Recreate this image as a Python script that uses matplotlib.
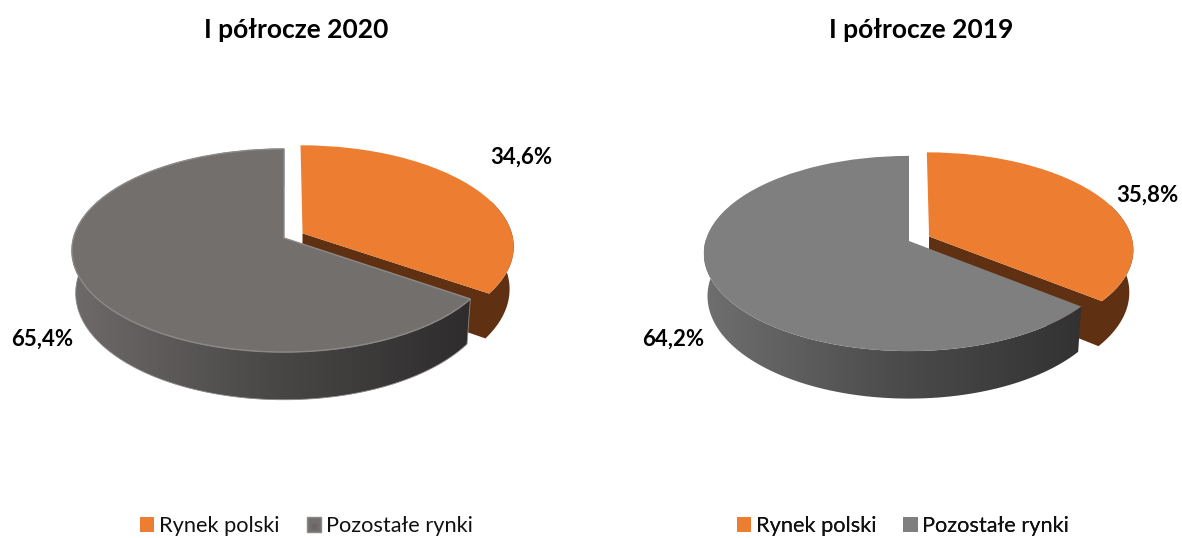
"""Two tilted 3D-look pies: share of the Polish market vs other markets."""
import matplotlib
matplotlib.use("Agg")
import matplotlib.pyplot as plt
import matplotlib.transforms as mtransforms
import numpy as np
from matplotlib.colors import LinearSegmentedColormap
from matplotlib.patches import Polygon

categories = ["Rynek polski", "Pozostałe rynki"]

title_left = "I półrocze 2020"
shares_left = [34.6, 65.4]

title_right = "I półrocze 2019"
shares_right = [35.8, 64.2]

plt.rcParams["font.family"] = ["Lato", "DejaVu Sans"]

ORANGE = "#ED7D31"
BROWN = "#5F3112"


class Tilt(mtransforms.Transform):
    """Perspective view of the pie plane, gives figure pixels."""
    input_dims = 2
    output_dims = 2

    def __init__(self, cx, cy, sx, sy, persp):
        super().__init__()
        self.cx, self.cy, self.sx, self.sy, self.persp = cx, cy, sx, sy, persp

    def transform_non_affine(self, values):
        x, y = values[:, 0], values[:, 1]
        w = 1 + self.persp * y
        return np.column_stack([self.cx + self.sx * x / w, self.cy - self.sy * y / w])


def drop(pts, tilt):
    # bottom rim of the pie under a point of the top rim
    out = pts.copy()
    out[:, 0] = tilt.cx + (pts[:, 0] - tilt.cx) * 0.982
    out[:, 1] = pts[:, 1] + 42 + 0.05 * (pts[:, 1] - tilt.cy)
    return out


def rim(wedge, tilt, end=None):
    t = np.radians(np.linspace(wedge.theta1, wedge.theta2 if end is None else end, 200))
    cx, cy = wedge.center
    return tilt.transform(np.column_stack([cx + np.cos(t), cy + np.sin(t)]))


def draw_pie(ax, shares, tilt, explode, top, wall_colors, edge):
    wedges, _ = ax.pie(shares, explode=[explode, 0], startangle=90, counterclock=False,
                       colors=[ORANGE, top])
    orange, grey = wedges
    orange.set_transform(tilt + ax.transData)
    grey.set_transform(tilt + ax.transData)
    orange.set_zorder(3)
    grey.set_zorder(5)
    if edge:
        grey.set_edgecolor(edge)
        grey.set_linewidth(1.0)
    else:
        grey.set_edgecolor("none")
    orange.set_edgecolor("none")

    # orange wall: cut face towards the grey slice plus the front of the rim
    apex = tilt.transform(np.array([orange.center]))
    top_rim = np.vstack([apex, rim(orange, tilt, end=20)])
    ax.add_patch(Polygon(np.vstack([top_rim, drop(top_rim, tilt)[::-1]]),
                         facecolor=BROWN, edgecolor="none", zorder=2))

    # grey wall with the horizontal shading
    top_rim = rim(grey, tilt)
    wall = np.vstack([top_rim, drop(top_rim, tilt)[::-1]])
    cmap = LinearSegmentedColormap.from_list("wall", wall_colors)
    left, right = top_rim[:, 0].min(), top_rim[:, 0].max()
    img = ax.imshow(np.linspace(0, 1, 256)[None, :], cmap=cmap, aspect="auto",
                    extent=(left, right, 420, 240), zorder=4, interpolation="bilinear")
    img.set_clip_path(Polygon(wall, transform=ax.transData))
    if edge:
        ax.add_patch(Polygon(wall, facecolor="none", edgecolor=edge, linewidth=0.6, zorder=4))
    return wedges


fig = plt.figure(figsize=(11.82, 5.38), dpi=100)
ax = fig.add_axes([0, 0, 1, 1])

tilt_left = Tilt(284, 238, 210.5, 100, 0.123)
tilt_right = Tilt(909, 241, 203.5, 96, 0.128)

wedges_left = draw_pie(ax, shares_left, tilt_left, 0.1, "#736F6D",
                       ["#6D6A69", "#4A4747", "#2E2C2C"], "#8B8987")
wedges_right = draw_pie(ax, shares_right, tilt_right, 0.11, "#7F7F7F",
                        ["#6F6F6F", "#4C4C4C", "#323232"], None)

ax.set_aspect("auto")
ax.set_xlim(0, 1182)
ax.set_ylim(538, 0)
ax.axis("off")

for x, title in [(296, title_left), (921.5, title_right)]:
    ax.text(x, 29.5, title, ha="center", va="center", fontsize=19, fontweight="bold", color="#000000")

labels = [f"{v:.1f}%".replace(".", ",") for v in shares_left + shares_right]
label_xy = [(521.5, 157), (42, 339), (1147, 195), (673, 339)]
for (x, y), lab in zip(label_xy, labels):
    ax.text(x, y, lab, ha="center", va="center", fontsize=16, fontweight="bold", color="#000000")

for wedges, x in [(wedges_left, 306.5), (wedges_right, 903)]:
    leg = ax.legend(wedges, categories, ncol=2, frameon=False, loc="center",
                    bbox_to_anchor=(x, 526), bbox_transform=ax.transData,
                    fontsize=15.7, handlelength=0.65, handleheight=0.65,
                    handletextpad=0.22, columnspacing=1.25, borderpad=0, borderaxespad=0)
    ax.add_artist(leg)
    for text in leg.get_texts():
        text.set_color("#111111")

# the left legend key has a darker spot in the middle
ax.plot([314], [526], marker="s", markersize=4.5, color="#6A6766", markeredgecolor="none", zorder=6)

fig.savefig("out.png", dpi=100)
